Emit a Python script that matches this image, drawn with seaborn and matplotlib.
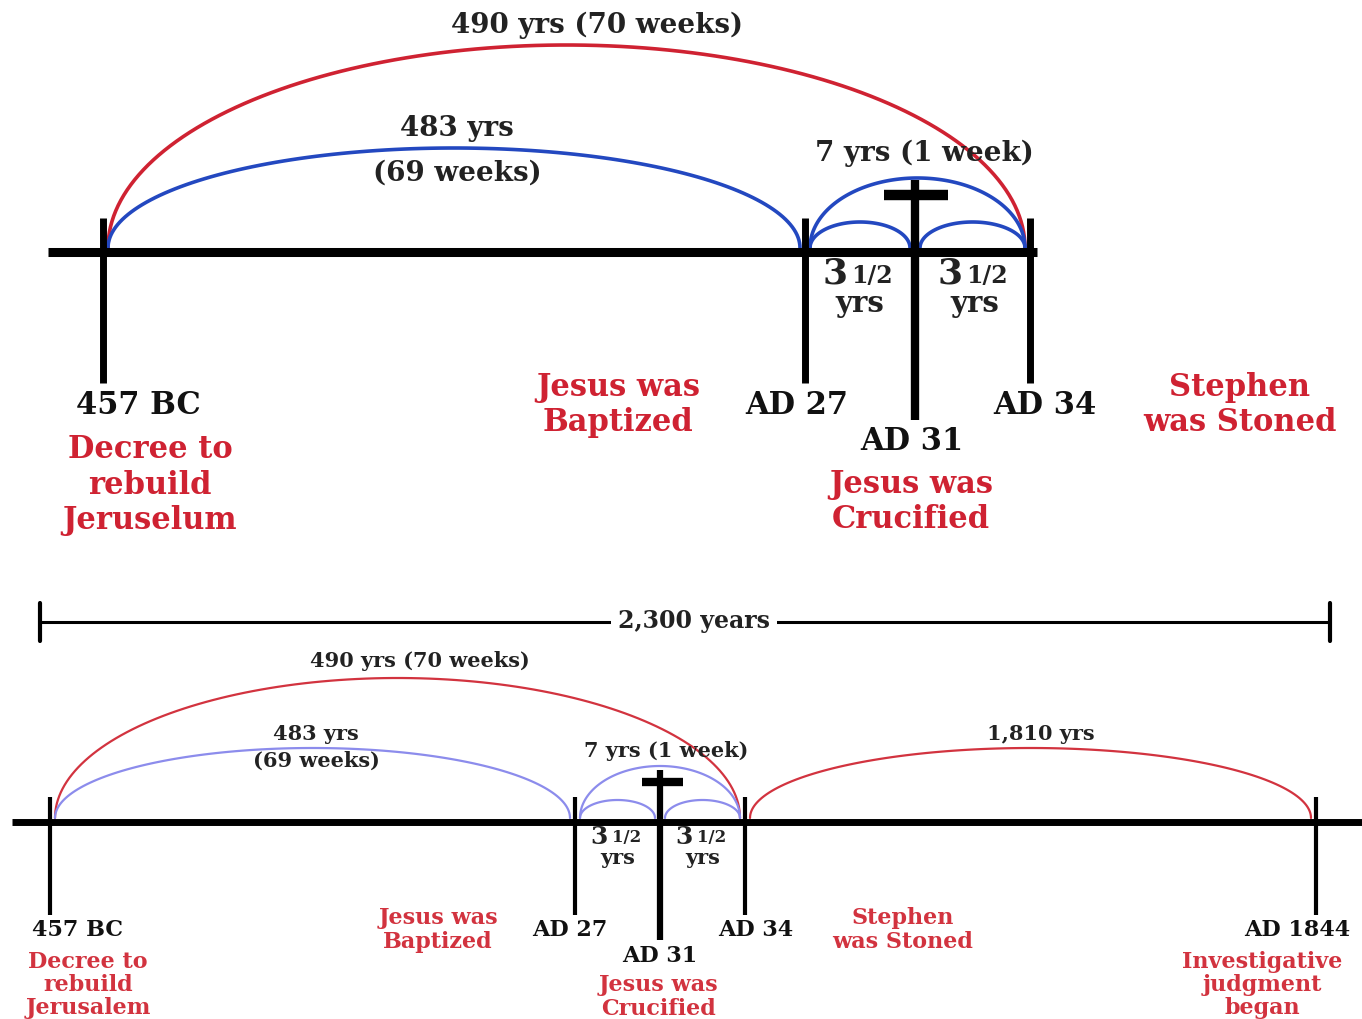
import numpy as np
import pandas as pd
import matplotlib
matplotlib.use("Agg")
import matplotlib.pyplot as plt
import seaborn as sns

# --- data (schematic positions, the diagram is not drawn to scale) ---
# top panel: 70 weeks prophecy
top_dates = ["457 BC", "AD 27", "AD 31", "AD 34"]
top_x = [103, 805, 915, 1030]
top_events = ["Decree to\nrebuild\nJeruselum", "Jesus was\nBaptized",
              "Jesus was\nCrucified", "Stephen\nwas Stoned"]
top_arc_start = [0, 0, 1, 1, 2]
top_arc_end = [3, 1, 3, 2, 3]
top_arc_height = [207, 104, 74, 30, 30]
top_arc_color = ["red", "blue", "blue", "blue", "blue"]
top_arc_labels = ["490 yrs (70 weeks)", "483 yrs", "(69 weeks)", "7 yrs (1 week)"]

# bottom panel: 2300 day prophecy
bot_dates = ["457 BC", "AD 27", "AD 31", "AD 34", "AD 1844"]
bot_x = [50, 575, 660, 745, 1316]
bot_events = ["Decree to\nrebuild\nJerusalem", "Jesus was\nBaptized",
              "Jesus was\nCrucified", "Stephen\nwas Stoned",
              "Investigative\njudgment\nbegan"]
bot_arc_start = [0, 0, 1, 1, 2, 3]
bot_arc_end = [3, 1, 3, 2, 3, 4]
bot_arc_height = [144, 74, 56, 22, 22, 74]
bot_arc_color = ["red", "blue", "blue", "blue", "blue", "red"]
bot_arc_labels = ["490 yrs (70 weeks)", "483 yrs", "(69 weeks)", "7 yrs (1 week)", "1,810 yrs"]
total_label = "2,300 years"

RED = "#cf2232"
BLUE_TOP = "#2348c0"
BLUE_BOT = "#8c8cec"
RED_BOT = "#d2333f"
INK = "#222222"

sns.set_theme(style="white")
plt.rcParams["font.family"] = ["DejaVu Serif"]

fig = plt.figure(figsize=(13.62, 10.19), dpi=100)
ax = fig.add_axes([0, 0, 1, 1])


def arc_frame(xs, starts, ends, heights, colors, base, pad):
    rows = []
    t = np.linspace(0, np.pi, 120)
    for i, (s, e, h, c) in enumerate(zip(starts, ends, heights, colors)):
        x0, x1 = xs[s] + pad, xs[e] - pad
        cx, rx = (x0 + x1) / 2, (x1 - x0) / 2
        for xx, yy in zip(cx - rx * np.cos(t), base - 4 - (h - 4) * np.sin(t)):
            rows.append({"x": xx, "y": yy, "arc": i, "color": c})
    return pd.DataFrame(rows)


bold = dict(fontweight="bold", ha="center", va="center")

# ---------------- top timeline ----------------
ytop = 252
df_top = arc_frame(top_x, top_arc_start, top_arc_end, top_arc_height, top_arc_color, ytop, 5)
sns.lineplot(data=df_top, x="x", y="y", units="arc", hue="color", estimator=None, sort=False,
             palette={"red": RED, "blue": BLUE_TOP}, lw=2.6, legend=False, ax=ax)

ax.plot([48, 1037], [ytop, ytop], color="black", lw=6.5, solid_capstyle="butt", zorder=3)
for i, x in enumerate(top_x):
    if i == 2:
        ax.plot([x, x], [180, 420], color="black", lw=6, solid_capstyle="butt", zorder=4)
        ax.plot([x - 31, x + 33], [195, 195], color="black", lw=7.5, solid_capstyle="butt", zorder=4)
    else:
        ax.plot([x, x], [218, 383], color="black", lw=5, solid_capstyle="butt", zorder=4)

ax.text(597, 25, top_arc_labels[0], fontsize=20, color=INK, **bold)
ax.text(457, 128, top_arc_labels[1], fontsize=20, color=INK, **bold)
ax.text(457, 173, top_arc_labels[2], fontsize=20, color=INK, **bold)
ax.text(924, 153, top_arc_labels[3], fontsize=20, color=INK, **bold)
for x in [860, 975]:
    ax.text(x - 25, 274, "3", fontsize=26, color=INK, **bold)
    ax.text(x + 12, 276, "1/2", fontsize=17, color=INK, **bold)
    ax.text(x, 304, "yrs", fontsize=21, color=INK, **bold)

top_date_pos = [(138, 405), (797, 405), (912, 441), (1045, 405)]
top_event_pos = [(150, 485), (618, 405), (911, 502), (1240, 405)]
for d, (x, y) in zip(top_dates, top_date_pos):
    ax.text(x, y, d, fontsize=22, color="#111111", **bold)
for ev, (x, y) in zip(top_events, top_event_pos):
    ax.text(x, y, ev, fontsize=22, color=RED, linespacing=1.2, **bold)

# ---------------- bottom timeline ----------------
ybot = 822
df_bot = arc_frame(bot_x, bot_arc_start, bot_arc_end, bot_arc_height, bot_arc_color, ybot, 5)
sns.lineplot(data=df_bot, x="x", y="y", units="arc", hue="color", estimator=None, sort=False,
             palette={"red": RED_BOT, "blue": BLUE_BOT}, lw=1.6, legend=False, ax=ax)

ax.plot([12, 1362], [ybot, ybot], color="black", lw=5, solid_capstyle="butt", zorder=3)
for i, x in enumerate(bot_x):
    if i == 2:
        ax.plot([x, x], [770, 940], color="black", lw=4.5, solid_capstyle="butt", zorder=4)
        ax.plot([x - 18, x + 23], [782, 782], color="black", lw=6, solid_capstyle="butt", zorder=4)
    else:
        ax.plot([x, x], [797, 915], color="black", lw=3, solid_capstyle="butt", zorder=4)

# 2300 years bracket
ax.plot([40, 1330], [622, 622], color="black", lw=2.2, zorder=2)
for x in [40, 1330]:
    ax.plot([x, x], [603, 641], color="black", lw=3, zorder=2)
ax.text(694, 621, total_label, fontsize=17, color=INK, zorder=3,
        bbox=dict(facecolor="white", edgecolor="none", pad=5), **bold)

ax.text(420, 661, bot_arc_labels[0], fontsize=15, color=INK, **bold)
ax.text(316, 734, bot_arc_labels[1], fontsize=15, color=INK, **bold)
ax.text(316, 761, bot_arc_labels[2], fontsize=15, color=INK, **bold)
ax.text(666, 751, bot_arc_labels[3], fontsize=15, color=INK, **bold)
ax.text(1041, 734, bot_arc_labels[4], fontsize=15, color=INK, **bold)
for x in [618, 703]:
    ax.text(x - 19, 837, "3", fontsize=18, color=INK, **bold)
    ax.text(x + 9, 838, "1/2", fontsize=12, color=INK, **bold)
    ax.text(x, 858, "yrs", fontsize=15, color=INK, **bold)

bot_date_pos = [(78, 930), (570, 930), (660, 956), (756, 930), (1297, 930)]
bot_event_pos = [(88, 985), (438, 930), (658, 997), (903, 930), (1262, 985)]
for d, (x, y) in zip(bot_dates, bot_date_pos):
    ax.text(x, y, d, fontsize=16, color="#111111", **bold)
for ev, (x, y) in zip(bot_events, bot_event_pos):
    ax.text(x, y, ev, fontsize=16, color=RED_BOT, linespacing=1.06, **bold)

ax.set_xlim(0, 1362)
ax.set_ylim(1019, 0)
ax.axis("off")

fig.savefig("out.png", dpi=100, facecolor="white")
plt.close(fig)
